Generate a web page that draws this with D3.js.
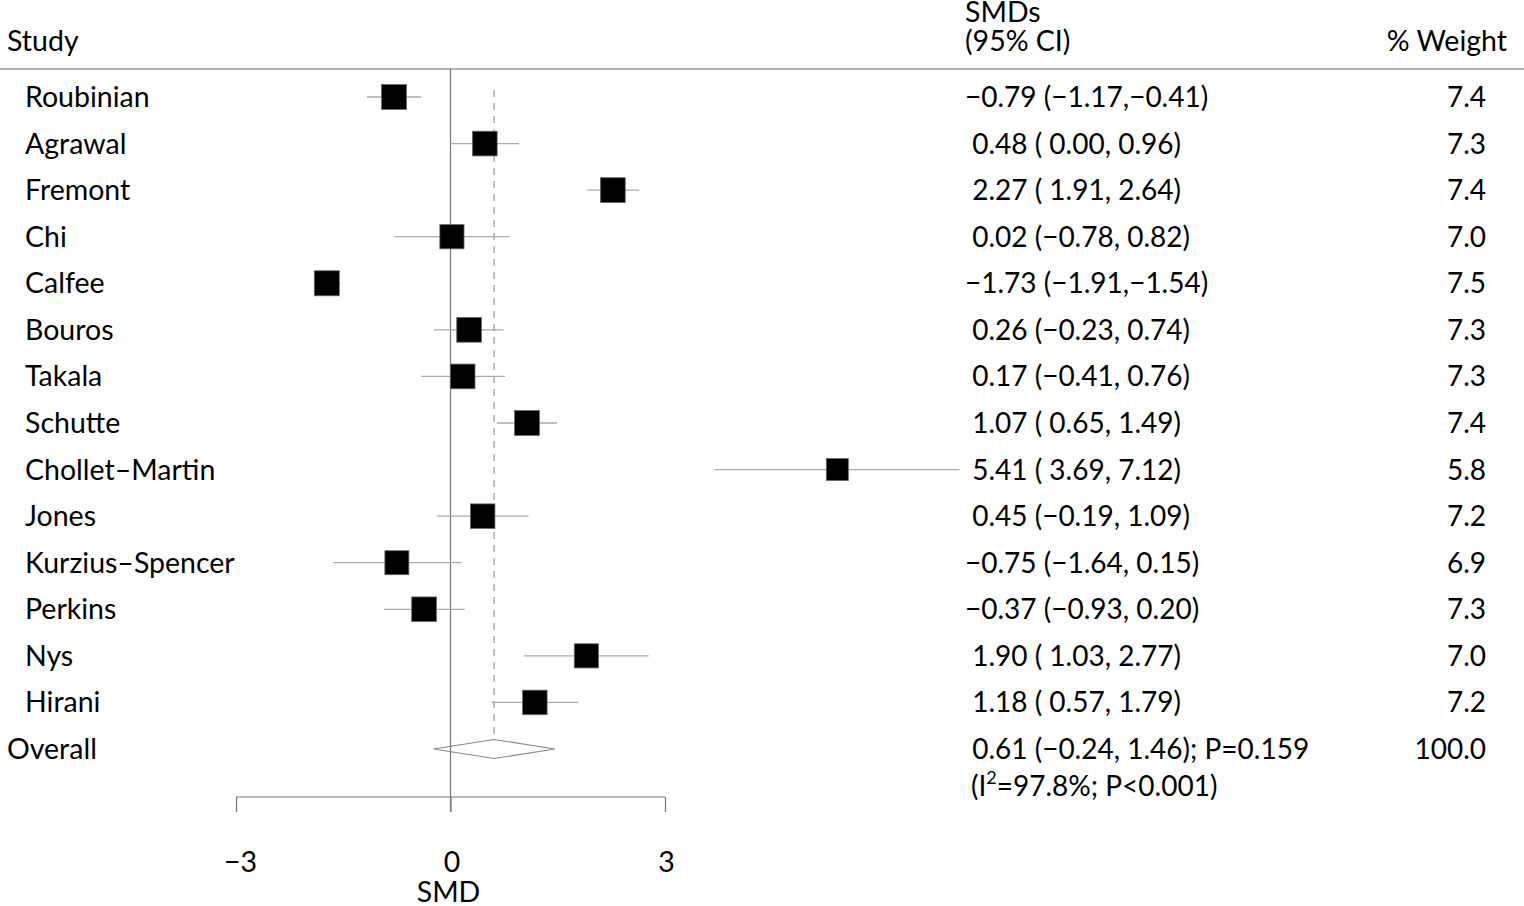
<!DOCTYPE html>
<html>
<head>
<meta charset="utf-8">
<script src="https://cdn.jsdelivr.net/npm/d3@7"></script>
<style>
  body { margin: 0; background: #fff; }
  text { font-family: Lato, "Noto Sans", sans-serif; fill: #000; white-space: pre; }
</style>
</head>
<body>
<div id="chart"></div>
<script>
// forest plot data
var studies = ["Roubinian", "Agrawal", "Fremont", "Chi", "Calfee", "Bouros", "Takala",
  "Schutte", "Chollet\u2013Martin", "Jones", "Kurzius\u2013Spencer", "Perkins", "Nys", "Hirani"];
var smd = [-0.79, 0.48, 2.27, 0.02, -1.73, 0.26, 0.17, 1.07, 5.41, 0.45, -0.75, -0.37, 1.90, 1.18];
var lower = [-1.17, 0.00, 1.91, -0.78, -1.91, -0.23, -0.41, 0.65, 3.69, -0.19, -1.64, -0.93, 1.03, 0.57];
var upper = [-0.41, 0.96, 2.64, 0.82, -1.54, 0.74, 0.76, 1.49, 7.12, 1.09, 0.15, 0.20, 2.77, 1.79];
var weight = [7.4, 7.3, 7.4, 7.0, 7.5, 7.3, 7.3, 7.4, 5.8, 7.2, 6.9, 7.3, 7.0, 7.2];

var overall = {est: 0.61, lo: -0.24, hi: 1.46, p: "0.159", i2: "97.8%", pHet: "P<0.001", weight: 100.0};
var xTicks = [-3, 0, 3];

var svgWidth = 1524, svgHeight = 906;

var svg = d3.select("#chart").append("svg")
  .attr("width", svgWidth).attr("height", svgHeight);

// scales
var x = d3.scaleLinear().domain([-3, 3]).range([236, 665]);
var y = d3.scaleLinear().domain([0, studies.length]).range([97, 749]);
var boxSide = d3.scaleSqrt().domain([0, 7.5]).range([0, 25]);

var fontSize = 28.5, numSize = 28;
var colCI = 965, colW = 1486;

function pad(v) {
  return (v < 0 ? "\u2212" : " ") + Math.abs(v).toFixed(2);
}

// headers
svg.append("text").attr("x", 7).attr("y", 51).attr("font-size", fontSize).text("Study");
svg.append("text").attr("x", colCI).attr("y", 22).attr("font-size", fontSize).text("SMDs");
svg.append("text").attr("x", colCI).attr("y", 51).attr("font-size", fontSize).text("(95% CI)");
svg.append("text").attr("x", 1507).attr("y", 51).attr("font-size", fontSize)
  .attr("text-anchor", "end").text("% Weight");

svg.append("line").attr("x1", 0).attr("x2", svgWidth).attr("y1", 69).attr("y2", 69)
  .attr("stroke", "#999").attr("stroke-width", 1.5);

// null line
svg.append("line").attr("x1", x(0)).attr("x2", x(0)).attr("y1", 69).attr("y2", 812)
  .attr("stroke", "#777").attr("stroke-width", 1.2);

// overall effect dashed line
svg.append("line").attr("x1", x(overall.est)).attr("x2", x(overall.est))
  .attr("y1", 90).attr("y2", y(studies.length) - 9)
  .attr("stroke", "#aaa").attr("stroke-width", 1.5).attr("stroke-dasharray", "7,6");

// axis
var axis = svg.append("g").attr("transform", "translate(0,797)")
  .call(d3.axisBottom(x).tickValues(xTicks).tickSize(15).tickPadding(40).tickFormat(d3.format("d")));
axis.select(".domain").attr("stroke", "#777").attr("stroke-width", 1.2)
  .attr("d", "M" + x(-3) + ",0H" + x(3));
axis.selectAll(".tick line").attr("stroke", "#777").attr("stroke-width", 1.2);
axis.selectAll(".tick text").attr("font-size", fontSize).attr("font-family", "Lato, 'Noto Sans', sans-serif")
  .attr("dx", d => d < 0 ? 4 : 1);
svg.append("text").attr("x", x(0) - 2).attr("y", 902).attr("font-size", fontSize)
  .attr("text-anchor", "middle").text("SMD");

// rows
var rows = svg.selectAll("g.row").data(studies).enter().append("g").attr("class", "row");

rows.append("line")
  .attr("x1", (d, i) => x(lower[i])).attr("x2", (d, i) => x(upper[i]))
  .attr("y1", (d, i) => y(i)).attr("y2", (d, i) => y(i))
  .attr("stroke", "#aaa").attr("stroke-width", 1.3);

rows.append("rect")
  .attr("x", (d, i) => x(smd[i]) - boxSide(weight[i]) / 2)
  .attr("y", (d, i) => y(i) - boxSide(weight[i]) / 2)
  .attr("width", (d, i) => boxSide(weight[i]))
  .attr("height", (d, i) => boxSide(weight[i]))
  .attr("fill", "#000").attr("stroke", "#666").attr("stroke-width", 0.8);

rows.append("text").attr("x", 25).attr("y", (d, i) => y(i) + 10)
  .attr("font-size", fontSize).text(d => d);

rows.append("text").attr("x", colCI).attr("y", (d, i) => y(i) + 10)
  .attr("font-size", numSize)
  .text((d, i) => pad(smd[i]) + " (" + pad(lower[i]) + "," + pad(upper[i]) + ")");

rows.append("text").attr("x", colW).attr("y", (d, i) => y(i) + 10)
  .attr("font-size", numSize).attr("text-anchor", "end")
  .text((d, i) => weight[i].toFixed(1));

// overall row
var yo = y(studies.length);
svg.append("polygon")
  .attr("points", [[x(overall.lo), yo], [x(overall.est), yo - 9.5], [x(overall.hi), yo], [x(overall.est), yo + 9.5]].join(" "))
  .attr("fill", "none").attr("stroke", "#888").attr("stroke-width", 1.2);

svg.append("text").attr("x", 7).attr("y", yo + 10).attr("font-size", fontSize).text("Overall");
svg.append("text").attr("x", colCI).attr("y", yo + 10).attr("font-size", numSize)
  .text(pad(overall.est) + " (" + pad(overall.lo) + "," + pad(overall.hi) + "); P=" + overall.p);
var het = svg.append("text").attr("x", colCI + 6).attr("y", yo + 47).attr("font-size", numSize);
het.append("tspan").text("(I");
het.append("tspan").attr("font-size", 18).attr("dy", -12).text("2");
het.append("tspan").attr("dy", 12).text("=" + overall.i2 + "; " + overall.pHet + ")");
svg.append("text").attr("x", colW).attr("y", yo + 10).attr("font-size", numSize)
  .attr("text-anchor", "end").text(overall.weight.toFixed(1));
</script>
</body>
</html>
